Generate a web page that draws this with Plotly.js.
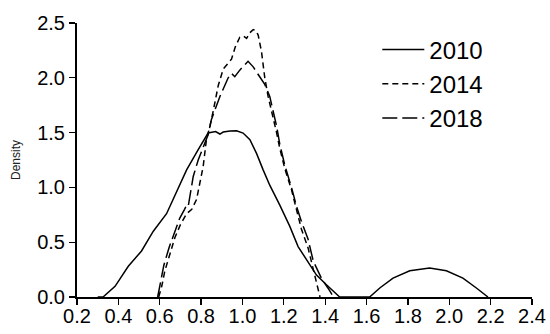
<!DOCTYPE html>
<html>
<head>
<meta charset="utf-8">
<script src="https://cdn.plot.ly/plotly-3.0.1.min.js"></script>
<style>html,body{margin:0;padding:0;background:#fff;}#chart{width:550px;height:334px;}</style>
</head>
<body>
<div id="chart"></div>
<script>
// Kernel density estimates
const x2010 = [0.30, 0.326, 0.384, 0.448, 0.512, 0.569, 0.633, 0.665, 0.697, 0.73, 0.786, 0.834, 0.87, 0.891, 0.907, 0.94, 0.971, 1.003, 1.036, 1.068, 1.10, 1.132, 1.18, 1.229, 1.269, 1.309, 1.358, 1.406, 1.44, 1.47, 1.60, 1.615, 1.664, 1.728, 1.809, 1.905, 1.986, 2.066, 2.131, 2.187];
const y2010 = [0, 0, 0.097, 0.28, 0.42, 0.60, 0.76, 0.89, 1.02, 1.16, 1.344, 1.496, 1.51, 1.487, 1.505, 1.515, 1.517, 1.496, 1.435, 1.31, 1.16, 1.02, 0.84, 0.644, 0.46, 0.34, 0.20, 0.112, 0.05, 0, 0, 0, 0.082, 0.173, 0.24, 0.265, 0.24, 0.173, 0.082, 0];

const x2014 = [0.595, 0.61, 0.625, 0.649, 0.673, 0.70, 0.73, 0.755, 0.778, 0.794, 0.81, 0.826, 0.843, 0.859, 0.883, 0.907, 0.93, 0.947, 0.965, 0.987, 1.005, 1.02, 1.035, 1.052, 1.065, 1.076, 1.092, 1.108, 1.124, 1.148, 1.165, 1.18, 1.205, 1.237, 1.26, 1.285, 1.317, 1.334, 1.35, 1.366, 1.375];
const y2014 = [0, 0.10, 0.24, 0.40, 0.54, 0.66, 0.76, 0.80, 0.89, 1.04, 1.19, 1.44, 1.56, 1.70, 1.93, 2.08, 2.13, 2.17, 2.28, 2.37, 2.38, 2.36, 2.41, 2.44, 2.43, 2.39, 2.24, 2.0, 1.83, 1.65, 1.50, 1.36, 1.17, 0.98, 0.80, 0.62, 0.45, 0.32, 0.19, 0.05, 0];

const x2018 = [0.59, 0.605, 0.62, 0.645, 0.67, 0.697, 0.72, 0.73, 0.738, 0.762, 0.786, 0.81, 0.834, 0.85, 0.867, 0.891, 0.931, 0.947, 0.963, 0.987, 1.027, 1.052, 1.076, 1.108, 1.132, 1.148, 1.165, 1.18, 1.205, 1.237, 1.261, 1.285, 1.30, 1.317, 1.342, 1.382, 1.414, 1.44];
const y2018 = [0, 0.14, 0.29, 0.45, 0.59, 0.72, 0.80, 0.84, 0.83, 1.10, 1.25, 1.37, 1.48, 1.62, 1.71, 1.83, 2.0, 2.04, 2.01, 2.07, 2.15, 2.10, 2.03, 1.94, 1.83, 1.71, 1.56, 1.40, 1.20, 1.00, 0.83, 0.69, 0.62, 0.53, 0.33, 0.17, 0.08, 0];

const seriesNames = ["2010", "2014", "2018"];
const xTicks = [0.2, 0.4, 0.6, 0.8, 1.0, 1.2, 1.4, 1.6, 1.8, 2.0, 2.2, 2.4];
const yTicks = [0.0, 0.5, 1.0, 1.5, 2.0, 2.5];

const FONT = "Liberation Sans, Arial, sans-serif";

const traces = [
  {x: x2010, y: y2010, name: seriesNames[0], mode: "lines", line: {color: "#000", width: 1.5, dash: "solid"}},
  {x: x2014, y: y2014, name: seriesNames[1], mode: "lines", line: {color: "#000", width: 1.5, dash: "6px,4px"}},
  {x: x2018, y: y2018, name: seriesNames[2], mode: "lines", line: {color: "#000", width: 1.5, dash: "15px,5px"}}
];

const layout = {
  width: 550, height: 334,
  margin: {l: 77, r: 18, t: 23, b: 37},
  paper_bgcolor: "#fff", plot_bgcolor: "#fff",
  font: {family: FONT, color: "#000"},
  showlegend: true,
  legend: {
    x: 0.66, y: 0.984, xanchor: "left", yanchor: "top",
    font: {family: FONT, size: 24, color: "#000"},
    bgcolor: "rgba(0,0,0,0)", itemwidth: 42, tracegroupgap: 0
  },
  xaxis: {
    range: [0.2, 2.4], tickvals: xTicks, ticktext: xTicks.map(v => v.toFixed(1)),
    showline: true, linecolor: "#000", linewidth: 2,
    ticks: "outside", ticklen: 6, tickwidth: 1.2, tickcolor: "#000",
    showgrid: false, zeroline: false, ticklabelstandoff: -6,
    tickfont: {family: FONT, size: 20, color: "#000"}
  },
  yaxis: {
    range: [0, 2.5], tickvals: yTicks, ticktext: yTicks.map(v => v.toFixed(1)),
    showline: true, linecolor: "#000", linewidth: 2,
    ticks: "outside", ticklen: 6, tickwidth: 1.2, tickcolor: "#000",
    showgrid: false, zeroline: false, ticklabelstandoff: 0,
    tickfont: {family: FONT, size: 20, color: "#000"},
    title: {text: "Density", font: {family: FONT, size: 12, color: "#222"}, standoff: 14}
  }
};

Plotly.newPlot("chart", traces, layout, {displayModeBar: false, staticPlot: true});
</script>
</body>
</html>
